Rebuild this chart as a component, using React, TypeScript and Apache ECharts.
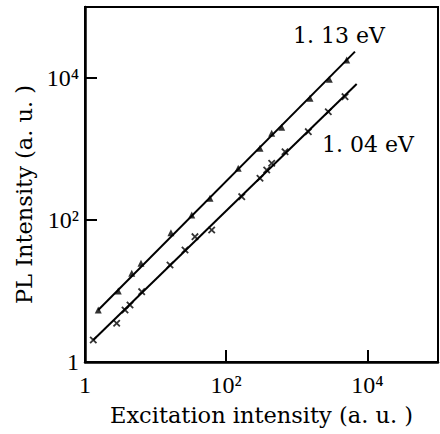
import React, { useEffect, useRef } from "react";
import * as echarts from "echarts";

// 1.13 eV measured points (x: excitation, y: PL)
const upperX = [1.54, 2.96, 4.59, 6.21, 16.5, 32.5, 59, 148, 301, 441, 611, 1538, 2885, 5090];
const upperY = [5.4, 10, 17.8, 24.5, 66, 118, 202, 535, 1023, 1663, 2020, 5180, 9590, 17900];
// 1.13 eV fitted line end points
const upperFitX = [1.54, 6670];
const upperFitY = [5.4, 23500];

// 1.04 eV measured points
const lowerX = [1.31, 2.81, 3.69, 4.34, 6.35, 16.0, 26.1, 36.1, 62.3, 166, 301, 375, 441, 681, 1456, 2793, 4820];
const lowerY = [2.04, 3.51, 5.4, 6.35, 9.78, 23.2, 37.8, 58.2, 72.3, 213, 387, 506, 629, 916, 1754, 3350, 5455];
// 1.04 eV fitted line end points
const lowerFitX = [1.31, 7050];
const lowerFitY = [2.04, 8230];

const tickValues = [1, 100, 10000];
const tickLabels = ["1", "10²", "10⁴"];

const seriesNames = ["1. 13 eV", "1. 04 eV"];
const xName = "Excitation intensity (a. u. )";
const yName = "PL Intensity (a. u. )";

const zip = (a: number[], b: number[]) => a.map((v, i) => [v, b[i]]);

const fmt = (v: number) => {
  for (let i = 0; i < tickValues.length; i++) {
    if (Math.abs(v - tickValues[i]) / tickValues[i] < 1e-6) return tickLabels[i];
  }
  return "";
};

const SERIF = "'DejaVu Serif', 'Liberation Serif', serif";
const TICKFONT = "'Liberation Serif', 'DejaVu Serif', serif";

export default function App() {
  const ref = useRef<HTMLDivElement>(null);
  useEffect(() => {
    if (!ref.current) return;
    const chart = echarts.init(ref.current, null, { renderer: "svg" });
    const axisCommon = {
      type: "log" as const,
      logBase: 100,
      min: 1,
      max: 100000,
      axisLine: { show: true, lineStyle: { color: "#000", width: 2.5 } },
      axisTick: { show: true, inside: true, length: 12, lineStyle: { color: "#000", width: 2 } },
      splitLine: { show: false },
      minorTick: { show: false },
      axisLabel: {
        formatter: fmt,
        showMaxLabel: false,
        color: "#000",
        fontFamily: TICKFONT,
        fontSize: 24,
      },
    };
    chart.setOption({
      animation: false,
      backgroundColor: "#fff",
      grid: {
        left: 85,
        right: 2,
        top: 7,
        bottom: 72,
        show: true,
        borderColor: "#000",
        borderWidth: 2,
      },
      xAxis: {
        ...axisCommon,
        axisLabel: { ...axisCommon.axisLabel, margin: 11 },
        name: xName,
        nameLocation: "middle",
        nameGap: 41,
        nameTextStyle: { color: "#000", fontFamily: SERIF, fontSize: 22.5 },
      },
      yAxis: {
        ...axisCommon,
        axisLabel: { ...axisCommon.axisLabel, margin: 6 },
        name: yName,
        nameLocation: "middle",
        nameGap: 46,
        nameTextStyle: { color: "#000", fontFamily: SERIF, fontSize: 22.5, padding: [0, 20, 0, 0] },
      },
      graphic: [
        {
          type: "text",
          left: 293,
          top: 24,
          style: { text: seriesNames[0], fill: "#000", font: `22px ${SERIF}` },
        },
        {
          type: "text",
          left: 322,
          top: 133,
          style: { text: seriesNames[1], fill: "#000", font: `22px ${SERIF}` },
        },
      ],
      series: [
        {
          type: "line",
          data: zip(upperFitX, upperFitY),
          showSymbol: false,
          lineStyle: { color: "#000", width: 2 },
          z: 2,
        },
        {
          type: "scatter",
          name: seriesNames[0],
          data: zip(upperX, upperY),
          symbol: "triangle",
          symbolSize: 7,
          itemStyle: { color: "#000" },
          z: 3,
        },
        {
          type: "line",
          data: zip(lowerFitX, lowerFitY),
          showSymbol: false,
          lineStyle: { color: "#000", width: 2 },
          z: 2,
        },
        {
          type: "scatter",
          name: seriesNames[1],
          data: zip(lowerX, lowerY),
          symbol: "path://M4,0h2v4h4v2h-4v4h-2v-4h-4v-2h4z",
          symbolRotate: 45,
          symbolSize: 9,
          itemStyle: { color: "#000" },
          z: 3,
        },
      ],
    });
    return () => chart.dispose();
  }, []);
  return (
    <div
      ref={ref}
      style={{ position: "fixed", left: 0, top: 0, width: 440, height: 434, background: "#fff" }}
    />
  );
}
